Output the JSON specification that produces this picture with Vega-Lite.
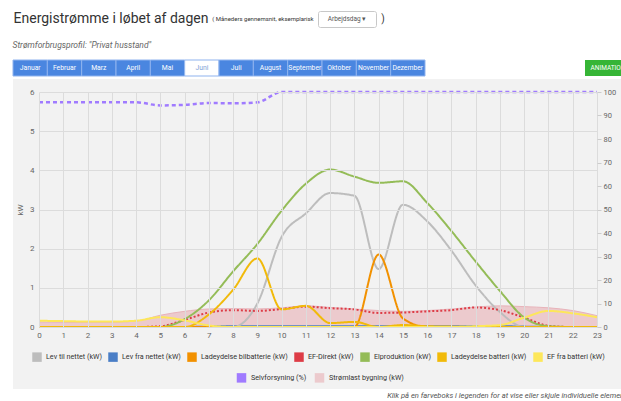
{
  "$schema": "https://vega.github.io/schema/vega-lite/v6.json",
  "padding": {"left": 12, "top": 10, "right": 0, "bottom": 0},
  "background": "white",
  "config": {
    "view": {"stroke": null},
    "font": "Roboto",
    "legend": {"zindex": 1}
  },
  "title": {
    "text": "Klik på en farveboks i legenden for at vise eller skjule individuelle elementer",
    "orient": "bottom", "anchor": "end", "fontSize": 7.6, "fontStyle": "italic",
    "fontWeight": "normal", "color": "#555", "offset": 3
  },
  "datasets": {
    "energi": [
      {"h": 0, "fra": 0, "til": 0, "bil": 0, "efd": 0, "prod": 0, "bat": 0, "efb": 0.16, "pct": 95.6, "last": 0.13},
      {"h": 1, "fra": 0, "til": 0, "bil": 0, "efd": 0, "prod": 0, "bat": 0, "efb": 0.15, "pct": 95.6, "last": 0.12},
      {"h": 2, "fra": 0, "til": 0, "bil": 0, "efd": 0, "prod": 0, "bat": 0, "efb": 0.14, "pct": 95.6, "last": 0.12},
      {"h": 3, "fra": 0, "til": 0, "bil": 0, "efd": 0, "prod": 0, "bat": 0, "efb": 0.14, "pct": 95.6, "last": 0.12},
      {"h": 4, "fra": 0, "til": 0, "bil": 0, "efd": 0, "prod": 0, "bat": 0, "efb": 0.16, "pct": 95.6, "last": 0.15},
      {"h": 5, "fra": 0, "til": 0, "bil": 0, "efd": 0.02, "prod": 0, "bat": 0, "efb": 0.25, "pct": 94.3, "last": 0.3},
      {"h": 6, "fra": 0, "til": 0, "bil": 0, "efd": 0.18, "prod": 0.2, "bat": 0, "efb": 0.17, "pct": 94.5, "last": 0.4},
      {"h": 7, "fra": 0.01, "til": 0, "bil": 0, "efd": 0.37, "prod": 0.68, "bat": 0.32, "efb": 0.04, "pct": 95.3, "last": 0.46},
      {"h": 8, "fra": 0.02, "til": 0, "bil": 0, "efd": 0.43, "prod": 1.42, "bat": 0.95, "efb": 0, "pct": 95.2, "last": 0.47},
      {"h": 9, "fra": 0.02, "til": 0.6, "bil": 0, "efd": 0.41, "prod": 2.12, "bat": 1.75, "efb": 0, "pct": 95.6, "last": 0.46},
      {"h": 10, "fra": 0.02, "til": 2.3, "bil": 0, "efd": 0.46, "prod": 2.97, "bat": 0.45, "efb": 0, "pct": 100, "last": 0.49},
      {"h": 11, "fra": 0.02, "til": 2.9, "bil": 0, "efd": 0.52, "prod": 3.66, "bat": 0.54, "efb": 0, "pct": 100, "last": 0.54},
      {"h": 12, "fra": 0.02, "til": 3.42, "bil": 0, "efd": 0.48, "prod": 4.02, "bat": 0.1, "efb": 0, "pct": 100, "last": 0.5},
      {"h": 13, "fra": 0.02, "til": 3.35, "bil": 0, "efd": 0.45, "prod": 3.84, "bat": 0.13, "efb": 0, "pct": 100, "last": 0.46},
      {"h": 14, "fra": 0.02, "til": 1.48, "bil": 1.85, "efd": 0.36, "prod": 3.68, "bat": 0, "efb": 0, "pct": 100, "last": 0.42},
      {"h": 15, "fra": 0.02, "til": 3.12, "bil": 0.22, "efd": 0.37, "prod": 3.72, "bat": 0.05, "efb": 0, "pct": 100, "last": 0.4},
      {"h": 16, "fra": 0.02, "til": 2.7, "bil": 0, "efd": 0.4, "prod": 3.17, "bat": 0.02, "efb": 0, "pct": 100, "last": 0.42},
      {"h": 17, "fra": 0.02, "til": 1.95, "bil": 0, "efd": 0.43, "prod": 2.45, "bat": 0.01, "efb": 0, "pct": 100, "last": 0.46},
      {"h": 18, "fra": 0.02, "til": 1.06, "bil": 0, "efd": 0.5, "prod": 1.67, "bat": 0, "efb": 0.02, "pct": 100, "last": 0.51},
      {"h": 19, "fra": 0.02, "til": 0.38, "bil": 0, "efd": 0.43, "prod": 0.92, "bat": 0, "efb": 0.05, "pct": 100, "last": 0.54},
      {"h": 20, "fra": 0.01, "til": 0, "bil": 0, "efd": 0.24, "prod": 0.24, "bat": 0, "efb": 0.24, "pct": 100, "last": 0.52},
      {"h": 21, "fra": 0, "til": 0, "bil": 0, "efd": 0.03, "prod": 0.02, "bat": 0, "efb": 0.41, "pct": 100, "last": 0.49},
      {"h": 22, "fra": 0, "til": 0, "bil": 0, "efd": 0, "prod": 0, "bat": 0, "efb": 0.35, "pct": 100, "last": 0.42},
      {"h": 23, "fra": 0, "til": 0, "bil": 0, "efd": 0, "prod": 0, "bat": 0, "efb": 0.25, "pct": 100, "last": 0.29}
    ],
    "maaneder": [
      {"m": "Januar"}, {"m": "Februar"}, {"m": "Marz"}, {"m": "April"}, {"m": "Mai"}, {"m": "Juni"},
      {"m": "Juli"}, {"m": "August"}, {"m": "September"}, {"m": "Oktober"}, {"m": "November"}, {"m": "Dezember"}
    ]
  },
  "spacing": 1,
  "columns": 1,
  "concat": [
    {
      "spacing": 3,
      "hconcat": [
        {
          "width": 196, "height": 16,
          "data": {"values": [{"t": "Energistrømme i løbet af dagen"}]},
          "mark": {"type": "text", "fontSize": 14, "color": "#333", "align": "center", "baseline": "middle"},
          "encoding": {"text": {"field": "t"}}
        },
        {
          "width": 92, "height": 16,
          "data": {"values": [{"t": "( Måneders gennemsnit, eksemplarisk"}]},
          "mark": {"type": "text", "fontSize": 6, "color": "#333", "align": "center", "baseline": "middle"},
          "encoding": {"text": {"field": "t"}}
        },
        {
          "width": 58, "height": 16,
          "view": {"fill": "white", "stroke": "#c8c8c8", "cornerRadius": 2},
          "data": {"values": [{"t": "Arbejdsdag   ▾"}]},
          "mark": {"type": "text", "fontSize": 6.5, "color": "#555", "align": "center", "baseline": "middle"},
          "encoding": {"text": {"field": "t"}}
        },
        {
          "width": 6, "height": 16,
          "data": {"values": [{"t": ")"}]},
          "mark": {"type": "text", "fontSize": 10, "color": "#333", "align": "center", "baseline": "middle"},
          "encoding": {"text": {"field": "t"}}
        },
        {
          "width": 1, "height": 29,
          "data": {"values": []},
          "mark": {"type": "text"},
          "encoding": {}
        }
      ]
    },
    {
      "title": {
        "text": "Strømforbrugsprofil: \"Privat husstand\"",
        "anchor": "start", "fontSize": 8.5, "fontStyle": "italic", "fontWeight": "normal",
        "color": "#666", "offset": 10
      },
      "spacing": 159,
      "hconcat": [
        {
          "width": 412, "height": 16,
          "data": {"name": "maaneder"},
          "layer": [
            {
              "mark": {"type": "rect", "stroke": "#8fb3ee", "strokeWidth": 1},
              "encoding": {
                "x": {"field": "m", "type": "nominal", "sort": null, "scale": {"paddingInner": 0, "paddingOuter": 0}, "axis": null},
                "color": {"condition": {"test": "datum.m === 'Juni'", "value": "#ffffff"}, "value": "#4a86e0"}
              }
            },
            {
              "mark": {"type": "text", "fontSize": 6.8, "align": "center", "baseline": "middle"},
              "encoding": {
                "x": {"field": "m", "type": "nominal", "sort": null, "scale": {"paddingInner": 0, "paddingOuter": 0}, "axis": null},
                "text": {"field": "m"},
                "color": {"condition": {"test": "datum.m === 'Juni'", "value": "#7fa2d6"}, "value": "#ffffff"}
              }
            }
          ]
        },
        {
          "width": 46, "height": 16,
          "view": {"fill": "#36b536"},
          "data": {"values": [{"t": "ANIMATION"}]},
          "mark": {"type": "text", "fontSize": 6.5, "color": "white", "align": "center", "baseline": "middle"},
          "encoding": {"text": {"field": "t"}}
        }
      ]
    },
    {
      "width": 620, "height": 235,
      "data": {"name": "energi"},
      "layer": [
        {
          "layer": [
            {
              "data": {"values": [{"panel": "baggrund"}]},
              "mark": {"type": "rect", "color": "#f2f2f2"},
              "encoding": {
                "x": {"datum": -1.072, "type": "quantitative", "scale": {"domain": [0, 23], "range": [26, 584], "nice": false, "zero": false},
                  "axis": {"values": [0,1,2,3,4,5,6,7,8,9,10,11,12,13,14,15,16,17,18,19,20,21,22,23], "grid": true, "gridColor": "#dcdcdc",
                    "ticks": false, "domain": false, "labelFontSize": 8, "labelColor": "#666", "labelPadding": 4,
                    "labelFlush": false, "labelOverlap": false, "title": null, "zindex": 1}},
                "x2": {"datum": 24.484},
                "y": {"datum": 6.332, "type": "quantitative", "scale": {"domain": [0, 6], "nice": false},
                  "axis": {"values": [0,1,2,3,4,5,6], "grid": true, "gridColor": "#dcdcdc", "ticks": false, "domain": false, "offset": -26,
                    "labelFontSize": 8, "labelColor": "#666", "labelPadding": 5, "labelOverlap": false, "title": "kW", "titleFontSize": 8,
                    "titleFontWeight": "normal", "titleColor": "#666", "titlePadding": 5, "zindex": 1}},
                "y2": {"datum": -1.583}
              }
            },
            {
              "mark": {"type": "area", "interpolate": "monotone", "opacity": 1},
              "encoding": {
                "x": {"field": "h", "type": "quantitative", "scale": {"domain": [0, 23], "range": [26, 584], "nice": false, "zero": false},
                  "axis": {"values": [0,1,2,3,4,5,6,7,8,9,10,11,12,13,14,15,16,17,18,19,20,21,22,23], "grid": true, "gridColor": "#dcdcdc",
                    "ticks": false, "domain": false, "labelFontSize": 8, "labelColor": "#666", "labelPadding": 4,
                    "labelFlush": false, "labelOverlap": false, "title": null, "zindex": 1}},
                "y": {"field": "last", "type": "quantitative", "scale": {"domain": [0, 6], "nice": false},
                  "axis": {"values": [0,1,2,3,4,5,6], "grid": true, "gridColor": "#dcdcdc", "ticks": false, "domain": false, "offset": -26,
                    "labelFontSize": 8, "labelColor": "#666", "labelPadding": 5, "labelOverlap": false, "title": "kW", "titleFontSize": 8,
                    "titleFontWeight": "normal", "titleColor": "#666", "titlePadding": 5, "zindex": 1}},
                "fill": {
                  "datum": "Strømlast bygning (kW)",
                  "scale": {"domain": ["Selvforsyning (%)", "Strømlast bygning (kW)"], "range": ["#a07bff", "#eccacd"]},
                  "legend": {
                    "orient": "none", "legendX": 223, "legendY": 361, "direction": "horizontal", "title": null,
                    "symbolType": "square", "symbolSize": 90, "symbolOpacity": 1, "labelFontSize": 7.2, "labelColor": "#333",
                    "columnPadding": 7, "labelOffset": 4, "padding": 0, "zindex": 1
                  }
                }
              }
            },
            {
              "mark": {"type": "line", "interpolate": "monotone", "color": "#e8b3ba", "strokeWidth": 1},
              "encoding": {
                "x": {"field": "h", "type": "quantitative", "scale": {"domain": [0, 23], "range": [26, 584], "nice": false, "zero": false},
                  "axis": {"values": [0,1,2,3,4,5,6,7,8,9,10,11,12,13,14,15,16,17,18,19,20,21,22,23], "grid": true, "gridColor": "#dcdcdc",
                    "ticks": false, "domain": false, "labelFontSize": 8, "labelColor": "#666", "labelPadding": 4,
                    "labelFlush": false, "labelOverlap": false, "title": null, "zindex": 1}},
                "y": {"field": "last", "type": "quantitative", "scale": {"domain": [0, 6], "nice": false},
                  "axis": {"values": [0,1,2,3,4,5,6], "grid": true, "gridColor": "#dcdcdc", "ticks": false, "domain": false, "offset": -26,
                    "labelFontSize": 8, "labelColor": "#666", "labelPadding": 5, "labelOverlap": false, "title": "kW", "titleFontSize": 8,
                    "titleFontWeight": "normal", "titleColor": "#666", "titlePadding": 5, "zindex": 1}}
              }
            },
            {
              "transform": [{"fold": ["fra", "til", "bil", "efd", "prod", "bat", "efb"], "as": ["serie", "v"]}],
              "mark": {"type": "line", "interpolate": "monotone", "strokeWidth": 2},
              "encoding": {
                "x": {"field": "h", "type": "quantitative", "scale": {"domain": [0, 23], "range": [26, 584], "nice": false, "zero": false},
                  "axis": {"values": [0,1,2,3,4,5,6,7,8,9,10,11,12,13,14,15,16,17,18,19,20,21,22,23], "grid": true, "gridColor": "#dcdcdc",
                    "ticks": false, "domain": false, "labelFontSize": 8, "labelColor": "#666", "labelPadding": 4,
                    "labelFlush": false, "labelOverlap": false, "title": null, "zindex": 1}},
                "y": {"field": "v", "type": "quantitative", "scale": {"domain": [0, 6], "nice": false},
                  "axis": {"values": [0,1,2,3,4,5,6], "grid": true, "gridColor": "#dcdcdc", "ticks": false, "domain": false, "offset": -26,
                    "labelFontSize": 8, "labelColor": "#666", "labelPadding": 5, "labelOverlap": false, "title": "kW", "titleFontSize": 8,
                    "titleFontWeight": "normal", "titleColor": "#666", "titlePadding": 5, "zindex": 1}},
                "color": {
                  "field": "serie", "type": "nominal",
                  "scale": {"domain": ["til", "fra", "bil", "efd", "prod", "bat", "efb"],
                    "range": ["#bdbdbd", "#4a7ec6", "#f29100", "#dd3c46", "#94bc57", "#f1ba0a", "#fde75a"]},
                  "legend": {
                    "orient": "none", "legendX": 19, "legendY": 341, "direction": "horizontal", "title": null,
                    "symbolType": "square", "symbolSize": 90, "labelFontSize": 7.2, "labelColor": "#333",
                    "columnPadding": 6, "labelOffset": 4, "padding": 0, "zindex": 1,
                    "labelExpr": "['Lev til nettet (kW)','Lev fra nettet (kW)','Ladeydelse bilbatterie (kW)','EF-Direkt (kW)','Elproduktion (kW)','Ladeydelse batteri (kW)','EF fra batteri (kW)'][indexof(['til','fra','bil','efd','prod','bat','efb'], datum.value)]",
                    "encode": {"symbols": {"update": {"fill": {"scale": "color", "field": "value"}, "fillOpacity": {"value": 1}, "strokeWidth": {"value": 0}}}}
                  }
                },
                "strokeDash": {
                  "field": "serie", "type": "nominal",
                  "scale": {"domain": ["til", "fra", "bil", "efd", "prod", "bat", "efb"],
                    "range": [[1, 0], [1, 0], [1, 0], [2, 2], [1, 0], [1, 0], [1, 0]]},
                  "legend": null
                }
              }
            }
          ]
        },
        {
          "mark": {"type": "line", "interpolate": "monotone", "color": "#a07bff", "strokeWidth": 2.5, "strokeDash": [4, 3]},
          "encoding": {
            "x": {"field": "h", "type": "quantitative", "scale": {"domain": [0, 23], "range": [26, 584], "nice": false, "zero": false},
              "axis": {"values": [0,1,2,3,4,5,6,7,8,9,10,11,12,13,14,15,16,17,18,19,20,21,22,23], "grid": true, "gridColor": "#dcdcdc",
                "ticks": false, "domain": false, "labelFontSize": 8, "labelColor": "#666", "labelPadding": 4,
                "labelFlush": false, "labelOverlap": false, "title": null, "zindex": 1}},
            "y": {"field": "pct", "type": "quantitative", "scale": {"domain": [0, 100], "nice": false},
              "axis": {"orient": "right", "offset": -36, "values": [0,10,20,30,40,50,60,70,80,90,100], "grid": false, "ticks": true,
                "tickSize": 4, "tickColor": "#cccccc", "domain": false, "labelFontSize": 7.5, "labelColor": "#666",
                "labelPadding": 2, "title": null, "zindex": 1}}
          }
        }
      ],
      "resolve": {"scale": {"y": "independent"}}
    }
  ]
}
